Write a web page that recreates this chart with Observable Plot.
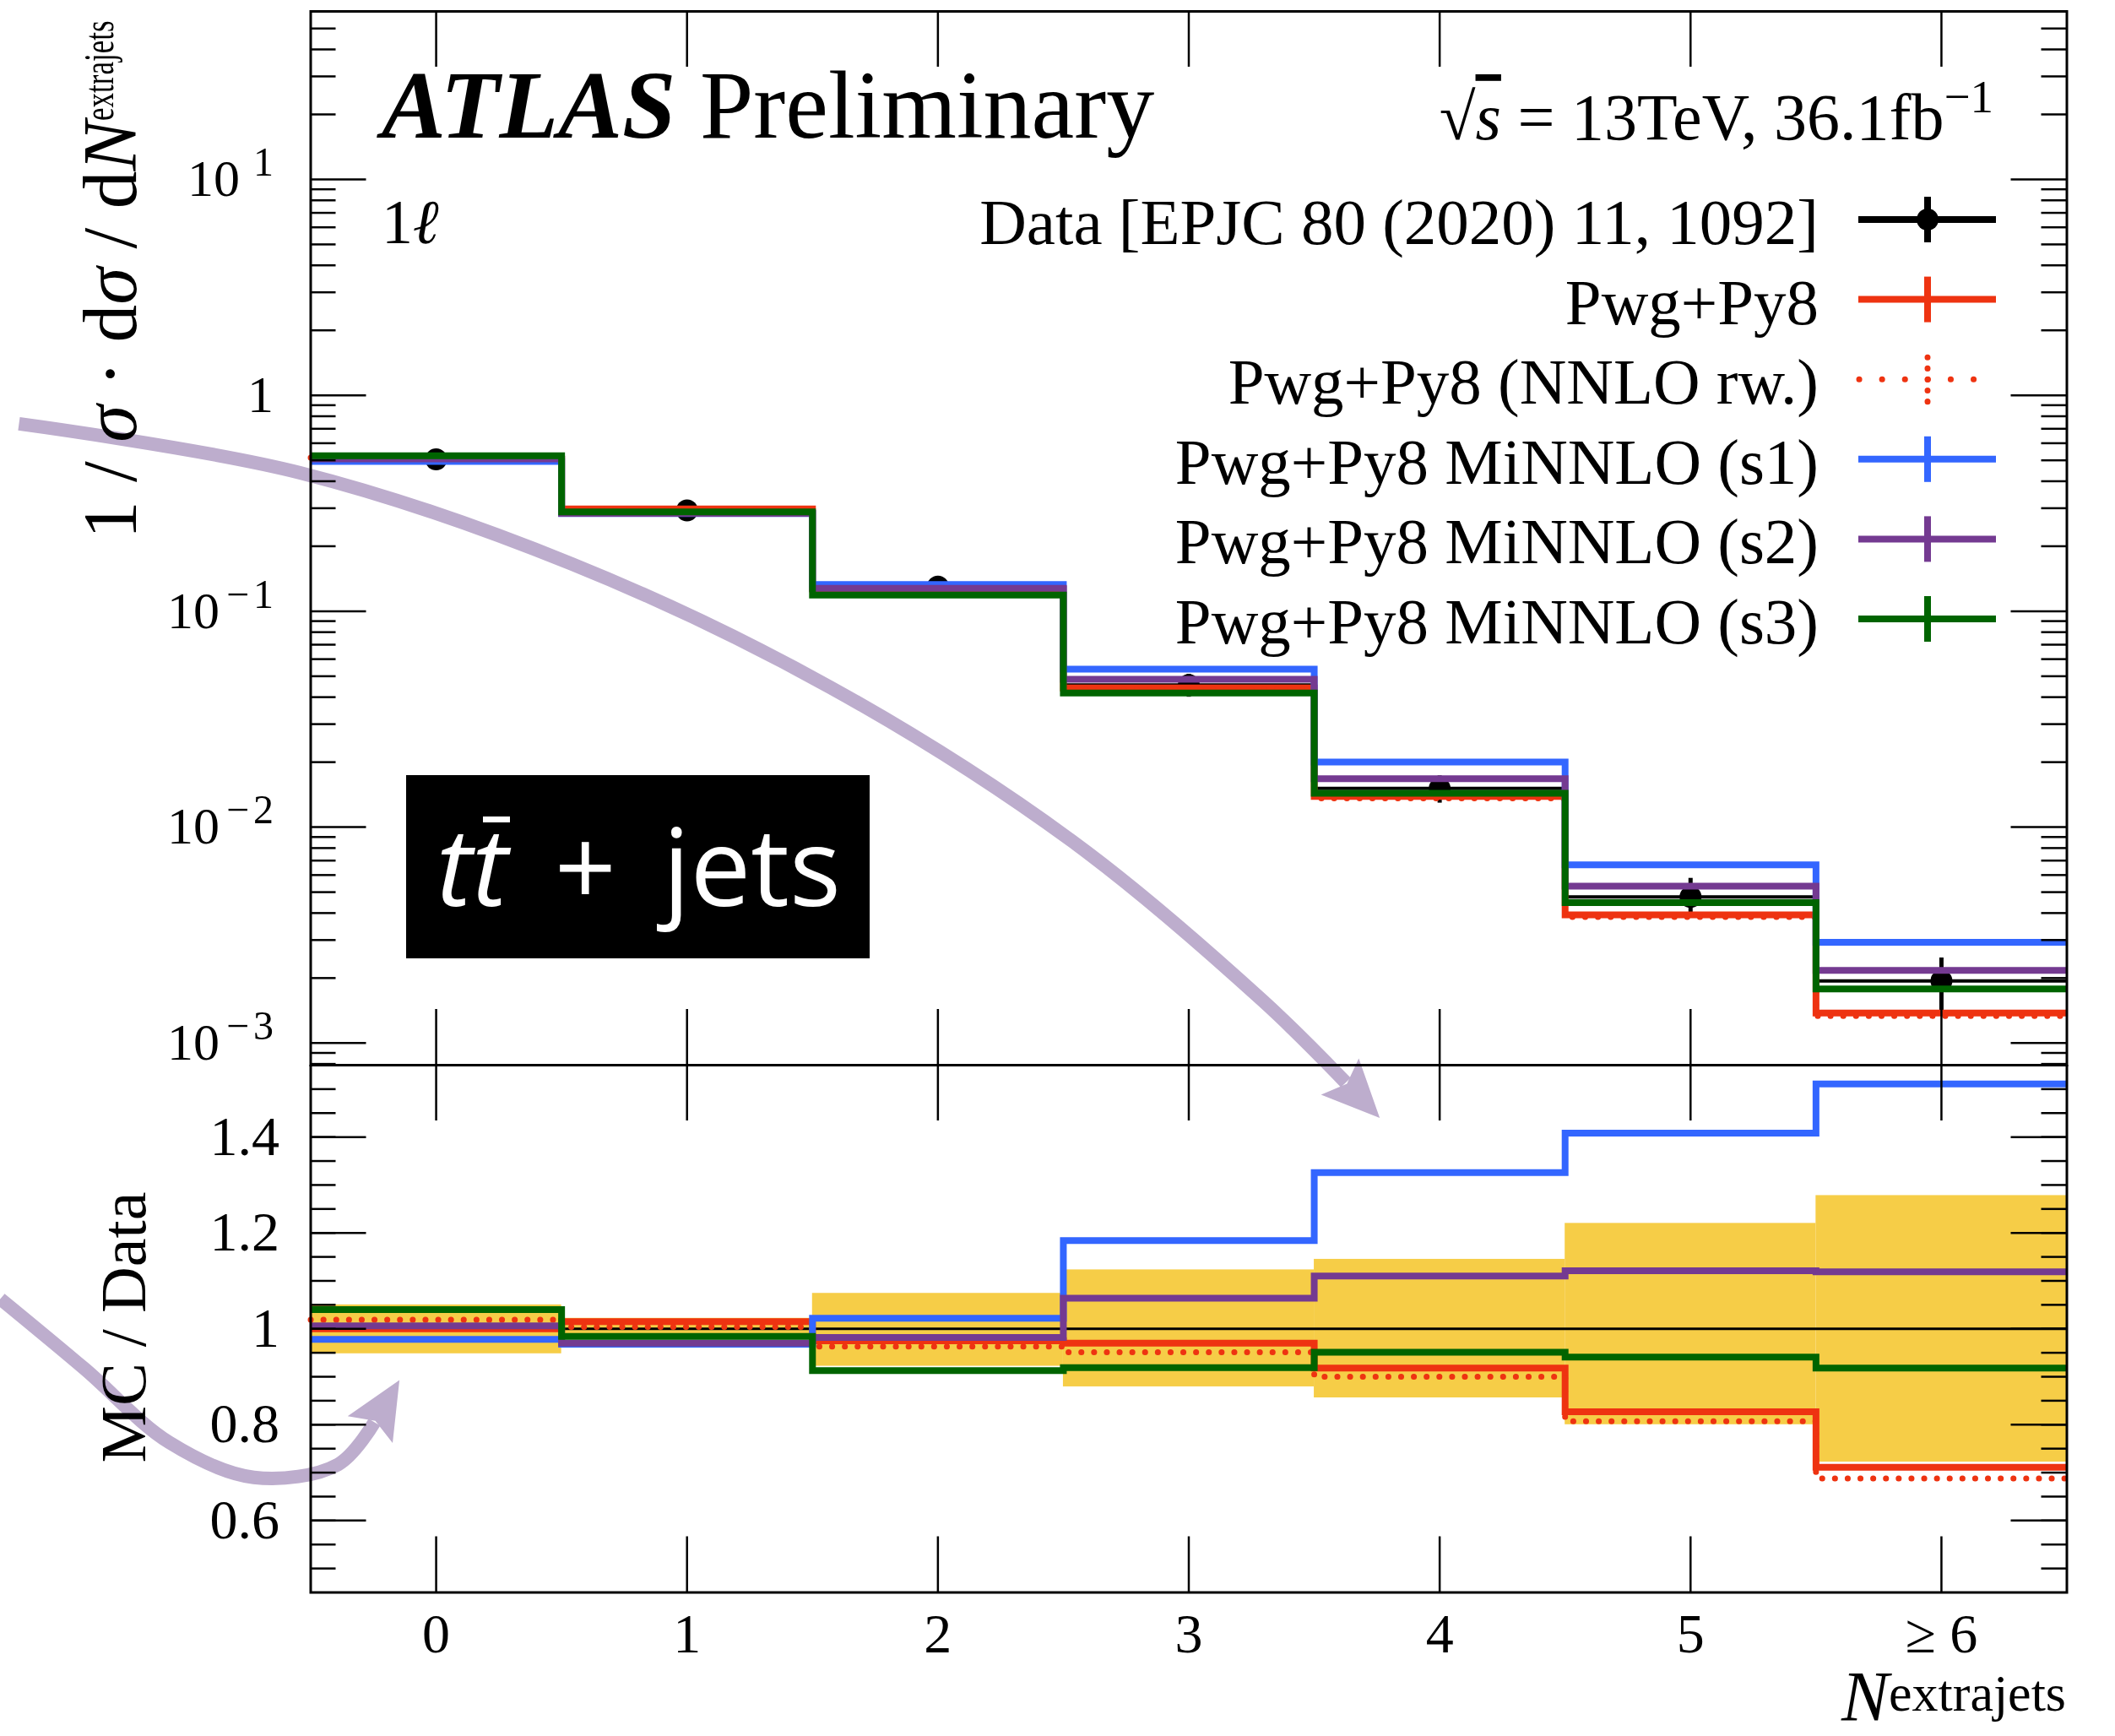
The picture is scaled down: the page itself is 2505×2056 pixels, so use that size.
<!DOCTYPE html>
<html>
<head>
<meta charset="utf-8">
<script src="https://cdn.jsdelivr.net/npm/d3@7"></script>
<script src="https://cdn.jsdelivr.net/npm/@observablehq/plot@0.6"></script>
<style>
  html, body { margin: 0; padding: 0; background: #fff; }
  #wrap { position: relative; width: 2505px; height: 2056px; overflow: hidden; background: #fff; }
  #wrap > svg { position: absolute; left: 0; }
  .tag { position: absolute; background: #000; color: #fff; font-family: "Open Sans", sans-serif; white-space: pre; }
  .bar { position: relative; }
  .bar::after { content: ""; position: absolute; left: 0.1em; right: -0.02em; top: 0.24em; height: 7px; background: #fff; }
</style>
</head>
<body>
<div id="wrap"></div>
<script>
// ---------------- data ----------------
const bins = [0, 1, 2, 3, 4, 5, 6];
const xTickLabels = ["0", "1", "2", "3", "4", "5", "\u2265 6"];

const dataValues = [0.505, 0.293, 0.130, 0.0455, 0.0151, 0.00475, 0.00194];
const bandLo = [0.948, 0.978, 0.922, 0.879, 0.856, 0.800, 0.722];
const bandHi = [1.050, 1.022, 1.074, 1.123, 1.145, 1.220, 1.278];

const pwgPy8     = [0.505, 0.2974, 0.1268, 0.04414, 0.01386, 0.003928, 0.001379];
const pwgPy8NNLO = [0.5146, 0.2942, 0.1252, 0.04327, 0.01359, 0.003833, 0.001335];
const minnloS1   = [0.4939, 0.2836, 0.1329, 0.05387, 0.02002, 0.006688, 0.002931];
const minnloS2   = [0.508, 0.2842, 0.1277, 0.04841, 0.01676, 0.005325, 0.002171];
const minnloS3   = [0.5252, 0.2883, 0.1187, 0.04181, 0.01436, 0.00447, 0.001781];

const ratioPwgPy8     = [1.000, 1.015, 0.975, 0.970, 0.918, 0.827, 0.711];
const ratioPwgPy8NNLO = [1.019, 1.004, 0.963, 0.951, 0.900, 0.807, 0.688];
const ratioS1         = [0.978, 0.968, 1.022, 1.184, 1.326, 1.408, 1.511];
const ratioS2         = [1.006, 0.970, 0.982, 1.064, 1.110, 1.121, 1.119];
const ratioS3         = [1.040, 0.984, 0.913, 0.919, 0.951, 0.941, 0.918];

const upperMajorTicks = [10, 1, 0.1, 0.01, 0.001];
const upperTickLabels = ["10^1", "1", "10^-1", "10^-2", "10^-3"];
const lowerMajorTicks = [0.6, 0.8, 1, 1.2, 1.4];
const lowerTickLabels = ["0.6", "0.8", "1", "1.2", "1.4"];

const legendLabels = ["Data [EPJC 80 (2020) 11, 1092]", "Pwg+Py8", "Pwg+Py8 (NNLO rw.)",
  "Pwg+Py8 MiNNLO (s1)", "Pwg+Py8 MiNNLO (s2)", "Pwg+Py8 MiNNLO (s3)"];

// annotation arrows (data coordinates of the panel they are drawn in)
const arrow1X = [-1.6628, -0.5421, 0.5406, 1.5707, 2.5336, 3.2938, 3.6257];
const arrow1Y = [0.7381, 0.4379, 0.1656, 0.04447, 0.008636, 0.001574, 0.0006561];
const arrow2X = [-1.737, -1.400, -1.064, -0.727, -0.391, -0.246];
const arrow2Y = [1.0624, 0.916, 0.763, 0.690, 0.717, 0.805];

// ---------------- style / layout ----------------
const SERIF = "'Liberation Serif', 'DejaVu Serif', serif";
const C = {red: "#ee3311", blue: "#3366ff", purple: "#743a91", green: "#006400", band: "#f6cd47", arrow: "#bdadcd"};
const W = 2505, H = 2056;
const mL = 367.5, mR = 57.5;
const upH = 1261, upTop = 13;
const loH = H - upH, loBot = 170.5;
const fw = W - mL - mR, fhU = upH - upTop, fhL = loH - loBot;
const TMAJ = 66, TMIN = 30;

const series = [
  {up: pwgPy8, ratio: ratioPwgPy8, color: C.red, dotted: false},
  {up: pwgPy8NNLO, ratio: ratioPwgPy8NNLO, color: C.red, dotted: true},
  {up: minnloS1, ratio: ratioS1, color: C.blue, dotted: false},
  {up: minnloS2, ratio: ratioS2, color: C.purple, dotted: false},
  {up: minnloS3, ratio: ratioS3, color: C.green, dotted: false}
];

const stepRows = vals => [...bins.map((b, i) => ({x: b - 0.5, y: vals[i]})),
  {x: bins[bins.length - 1] + 0.5, y: vals[vals.length - 1]}];

function seriesLine(s, key) {
  const opts = {x: "x", y: "y", curve: "step-after", stroke: s.color, strokeLinejoin: "miter", strokeMiterlimit: 4};
  if (s.dotted) Object.assign(opts, {strokeWidth: 7, strokeDasharray: "0.1 15", strokeLinecap: "round"});
  else Object.assign(opts, {strokeWidth: 8, strokeLinecap: "butt"});
  return Plot.line(stepRows(s[key]), opts);
}

function frameTicks(fh, majorY, minorY) {
  const k = {stroke: "black", strokeWidth: 2.5};
  return [
    Plot.tickX(bins, {x: d => d, insetBottom: fh - TMAJ, ...k}),
    Plot.tickX(bins, {x: d => d, insetTop: fh - TMAJ, ...k}),
    Plot.tickY(minorY, {y: d => d, insetRight: fw - TMIN, ...k}),
    Plot.tickY(minorY, {y: d => d, insetLeft: fw - TMIN, ...k}),
    Plot.tickY(majorY, {y: d => d, insetRight: fw - TMAJ, ...k}),
    Plot.tickY(majorY, {y: d => d, insetLeft: fw - TMAJ, ...k}),
    Plot.frame({stroke: "black", strokeWidth: 3})
  ];
}

const upperMinorTicks = [];
for (const e of [-4, -3, -2, -1, 0, 1]) for (let k = 2; k <= 9; k++) {
  const v = k * Math.pow(10, e);
  if (v >= 7.9e-4 && v <= 60) upperMinorTicks.push(v);
}
const lowerMinorTicks = d3.range(10, 31).map(i => i * 0.05);

const dataRows = bins.map((b, i) => ({bin: b, v: dataValues[i], lo: dataValues[i] * bandLo[i], hi: dataValues[i] * bandHi[i]}));
const bandRows = bins.map((b, i) => ({bin: b, lo: bandLo[i], hi: bandHi[i]}));
const arrow1Rows = arrow1X.map((x, i) => ({x, y: arrow1Y[i]}));
const arrow2Rows = arrow2X.map((x, i) => ({x, y: arrow2Y[i]}));

const arrowLine = rows => Plot.line(rows, {x: "x", y: "y", curve: "catmull-rom", stroke: C.arrow,
  strokeWidth: 16, strokeLinecap: "butt"});

// ---------------- upper panel ----------------
const upper = Plot.plot({
  width: W, height: upH,
  marginLeft: mL, marginRight: mR, marginTop: upTop, marginBottom: 0,
  style: {fontFamily: SERIF, overflow: "visible", background: "transparent"},
  x: {domain: [-0.5, 6.5], axis: null},
  y: {type: "log", domain: [7.9e-4, 60], axis: null},
  marks: [
    Plot.ruleY(dataRows, {y: "v", x1: d => d.bin - 0.5, x2: d => d.bin + 0.5, stroke: "black", strokeWidth: 4}),
    Plot.ruleX(dataRows, {x: "bin", y1: "lo", y2: "hi", stroke: "black", strokeWidth: 5}),
    Plot.dot(dataRows, {x: "bin", y: "v", r: 13, fill: "black"}),
    ...series.map(s => seriesLine(s, "up")),
    ...frameTicks(fhU, upperMajorTicks, upperMinorTicks),
    Plot.axisY(upperMajorTicks, {anchor: "left", tickSize: 0, tickPadding: 44, label: null,
      tickFormat: d => upperTickLabels[upperMajorTicks.indexOf(d)], fontSize: 62, fontFamily: SERIF}),
    arrowLine(arrow1Rows)
  ]
});

// ---------------- lower panel ----------------
const lower = Plot.plot({
  width: W, height: loH,
  marginLeft: mL, marginRight: mR, marginTop: 0, marginBottom: loBot,
  style: {fontFamily: SERIF, background: "transparent"},
  x: {domain: [-0.5, 6.5], axis: null},
  y: {domain: [0.45, 1.55], axis: null},
  marks: [
    Plot.rect(bandRows, {x1: d => d.bin - 0.5, x2: d => d.bin + 0.5, y1: "lo", y2: "hi", fill: C.band}),
    Plot.ruleY([1], {stroke: "black", strokeWidth: 3}),
    ...series.map(s => seriesLine(s, "ratio")),
    ...frameTicks(fhL, lowerMajorTicks, lowerMinorTicks),
    Plot.axisY(lowerMajorTicks, {anchor: "left", tickSize: 0, tickPadding: 37, label: null,
      tickFormat: d => lowerTickLabels[lowerMajorTicks.indexOf(d)], fontSize: 66, fontFamily: SERIF}),
    Plot.axisX(bins, {anchor: "bottom", tickSize: 0, tickPadding: 24, label: null,
      tickFormat: d => xTickLabels[d], fontSize: 66, fontFamily: SERIF}),
    arrowLine(arrow2Rows)
  ]
});

// superscript tick labels
d3.select(upper).selectAll('g[aria-label="y-axis tick label"] text').each(function () {
  const m = this.textContent.match(/^10\^(-?)(.+)$/);
  if (!m) return;
  this.textContent = "";
  const t = d3.select(this);
  t.append("tspan").text("10");
  if (m[1]) {
    t.append("tspan").attr("dx", 8).attr("dy", -24).attr("font-size", 48).text("\u2212");
    t.append("tspan").attr("dx", 5).attr("font-size", 48).text(m[2]);
  } else {
    t.append("tspan").attr("dx", 16).attr("dy", -24).attr("font-size", 48).text(m[2]);
  }
});

// dart arrow heads on the annotation lines
function addDart(svg) {
  d3.select(svg).selectAll(`g[stroke="${C.arrow}"]`).each(function () {
    const g = d3.select(this);
    const paths = g.selectAll("path");
    g.style("mix-blend-mode", "multiply");
    const id = "dart-" + Math.random().toString(36).slice(2);
    const m = g.insert("marker", ":first-child").attr("id", id).attr("markerUnits", "userSpaceOnUse")
      .attr("orient", "auto").attr("viewBox", "-80 -80 160 160").attr("markerWidth", 160).attr("markerHeight", 160)
      .attr("refX", 0).attr("refY", 0).attr("overflow", "visible");
    m.append("path").attr("d", "M58,0L-10,-31L2,0L-10,31Z").attr("fill", C.arrow).attr("stroke", "none");
    paths.attr("marker-end", `url(#${id})`);
  });
}
addDart(upper);
addDart(lower);

const wrap = document.getElementById("wrap");
lower.style.top = upH + "px";
upper.style.top = "0px";
wrap.appendChild(lower);
wrap.appendChild(upper);

// ---------------- texts, legend ----------------
const ov = d3.create("svg").attr("width", W).attr("height", H).style("top", "0px")
  .attr("font-family", SERIF).style("pointer-events", "none");
wrap.appendChild(ov.node());

const title = ov.append("text").attr("x", 452).attr("y", 163).attr("font-size", 114);
title.append("tspan").attr("font-weight", "bold").attr("font-style", "italic").text("ATLAS");
title.append("tspan").text(" Preliminary");

const energy = ov.append("text").attr("x", 2361).attr("y", 165).attr("font-size", 78).attr("text-anchor", "end");
energy.append("tspan").text("\u221A");
energy.append("tspan").attr("font-style", "italic").attr("text-decoration", "overline").text("s");
energy.append("tspan").text(" = 13TeV, 36.1fb");
energy.append("tspan").attr("dy", -32).attr("font-size", 55).text("\u22121");

const chan = ov.append("text").attr("x", 452).attr("y", 288).attr("font-size", 74);
chan.append("tspan").text("1");
chan.append("tspan").attr("font-style", "italic").text("\u2113");

// legend
const legendStyles = [{color: "black", kind: "data"}, ...series.map(s => ({color: s.color, kind: s.dotted ? "dotted" : "line"}))];
legendLabels.forEach((lab, i) => {
  const cy = 260 + i * 94.6;
  ov.append("text").attr("x", 2154).attr("y", cy + 29).attr("font-size", 77).attr("text-anchor", "end").text(lab);
  const st = legendStyles[i];
  const g = ov.append("g").attr("stroke", st.color).attr("fill", "none");
  if (st.kind === "dotted") {
    g.attr("stroke-width", 7).attr("stroke-linecap", "round").attr("stroke-dasharray", "0.1 27");
    g.append("line").attr("x1", 2202).attr("x2", 2364).attr("y1", cy).attr("y2", cy);
    g.append("line").attr("x1", 2283).attr("x2", 2283).attr("y1", cy - 26).attr("y2", cy + 27).attr("stroke-dasharray", "0.1 13");
  } else {
    g.attr("stroke-width", 8);
    g.append("line").attr("x1", 2201).attr("x2", 2364).attr("y1", cy).attr("y2", cy);
    g.append("line").attr("x1", 2283).attr("x2", 2283).attr("y1", cy - 27).attr("y2", cy + 27);
    if (st.kind === "data") g.append("circle").attr("cx", 2283).attr("cy", cy).attr("r", 13).attr("fill", "black").attr("stroke", "none");
  }
});

// axis titles
const yt = ov.append("text").attr("transform", "translate(161,638) rotate(-90)").attr("font-size", 90)
  .attr("textLength", 495).attr("lengthAdjust", "spacingAndGlyphs");
yt.append("tspan").text("1 / ");
yt.append("tspan").attr("font-style", "italic").text("\u03C3");
yt.append("tspan").text(" \u00B7 d");
yt.append("tspan").attr("font-style", "italic").text("\u03C3");
yt.append("tspan").text(" / d");
yt.append("tspan").attr("font-style", "italic").text("N");
ov.append("text").attr("transform", "translate(134,143) rotate(-90) scale(0.7,1)").attr("font-size", 50)
  .text("extrajets");

ov.append("text").attr("transform", "translate(172,1572) rotate(-90)").attr("font-size", 76)
  .attr("text-anchor", "middle").text("MC / Data");

const xt = ov.append("text").attr("x", 2447).attr("y", 2038).attr("text-anchor", "end").attr("font-size", 84);
xt.append("tspan").attr("font-style", "italic").text("N");
xt.append("tspan").attr("dy", -12).attr("font-size", 62).text("extrajets");

// tt + jets tag
const tag = document.createElement("div");
tag.className = "tag";
Object.assign(tag.style, {left: "481px", top: "918px", width: "549px", height: "217px",
  fontSize: "128px", lineHeight: "212px", paddingLeft: "36px", boxSizing: "border-box", wordSpacing: "22px"});
tag.innerHTML = '<i>t</i><i class="bar">t</i> + jets';
wrap.appendChild(tag);
</script>
</body>
</html>
